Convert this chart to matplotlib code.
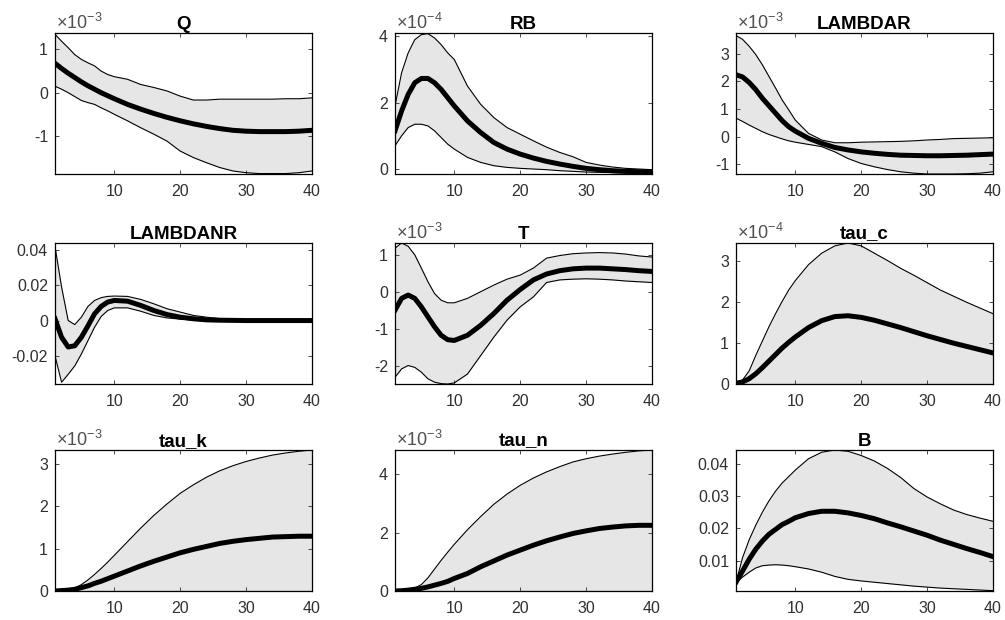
import matplotlib.pyplot as plt
import numpy as np

plt.rcParams['font.family'] = ['Liberation Sans', 'DejaVu Sans']
plt.rcParams['axes.unicode_minus'] = False
plt.rcParams['mathtext.fontset'] = 'custom'
plt.rcParams['mathtext.rm'] = 'Liberation Sans'
plt.rcParams['mathtext.it'] = 'Liberation Sans'

# horizon (periods) at which values were read
periods = [1, 2, 3, 4, 5, 6, 7, 8, 9, 10, 12, 14, 16, 18, 20, 22, 24, 26, 28, 30, 32, 34, 36, 38, 40]

# values are in the units shown on each axis (see scale exponents)
titles = ['Q', 'RB', 'LAMBDAR', 'LAMBDANR', 'T', 'tau_c', 'tau_k', 'tau_n', 'B']
exponents = [-3, -4, -3, None, -3, -4, -3, -3, None]

q_mean = [0.68, 0.56, 0.45, 0.35, 0.25, 0.16, 0.08, 0.0, -0.07, -0.14, -0.27, -0.38, -0.48, -0.57, -0.65,
          -0.72, -0.78, -0.83, -0.87, -0.89, -0.9, -0.9, -0.9, -0.89, -0.87]
q_up = [1.35, 1.19, 1.04, 0.88, 0.77, 0.69, 0.62, 0.5, 0.42, 0.37, 0.31, 0.19, 0.12, 0.04, -0.08,
        -0.17, -0.17, -0.15, -0.15, -0.15, -0.15, -0.15, -0.14, -0.14, -0.12]
q_lo = [0.15, 0.08, 0.0, -0.09, -0.18, -0.23, -0.27, -0.35, -0.42, -0.5, -0.65, -0.81, -0.96, -1.12, -1.35,
        -1.5, -1.62, -1.73, -1.81, -1.85, -1.87, -1.87, -1.87, -1.85, -1.81]

rb_mean = [1.15, 1.75, 2.25, 2.6, 2.73, 2.73, 2.6, 2.4, 2.15, 1.9, 1.45, 1.1, 0.8, 0.6, 0.45,
           0.33, 0.23, 0.15, 0.08, 0.02, -0.02, -0.05, -0.07, -0.08, -0.09]
rb_up = [1.9, 2.9, 3.5, 3.9, 4.05, 4.08, 3.95, 3.75, 3.5, 3.3, 2.5, 1.95, 1.55, 1.25, 1.05,
         0.85, 0.66, 0.5, 0.37, 0.2, 0.12, 0.06, 0.02, 0.0, -0.02]
rb_lo = [0.7, 1.0, 1.25, 1.35, 1.35, 1.3, 1.15, 0.95, 0.75, 0.6, 0.35, 0.2, 0.1, 0.05, 0.02,
         0.0, -0.02, -0.05, -0.07, -0.09, -0.1, -0.11, -0.12, -0.12, -0.12]

lr_mean = [2.24, 2.16, 1.96, 1.7, 1.39, 1.12, 0.85, 0.58, 0.36, 0.2, -0.06, -0.24, -0.39, -0.48, -0.55,
           -0.6, -0.64, -0.67, -0.68, -0.69, -0.69, -0.68, -0.67, -0.65, -0.63]
lr_up = [3.66, 3.52, 3.27, 2.97, 2.6, 2.18, 1.76, 1.33, 0.97, 0.6, 0.12, -0.12, -0.22, -0.22, -0.2,
         -0.19, -0.18, -0.17, -0.15, -0.12, -0.1, -0.07, -0.06, -0.05, -0.04]
lr_lo = [0.67, 0.55, 0.42, 0.3, 0.18, 0.08, 0.0, -0.08, -0.15, -0.2, -0.28, -0.36, -0.55, -0.79, -0.97,
         -1.09, -1.19, -1.27, -1.32, -1.35, -1.35, -1.35, -1.34, -1.32, -1.27]

lnr_mean = [0.001, -0.0095, -0.015, -0.0143, -0.0095, -0.003, 0.0038, 0.008, 0.0105, 0.0114, 0.011, 0.0086,
            0.0057, 0.0034, 0.0019, 0.001, 0.0004, 0.0002, 0.0001, 0.0, 0.0, 0.0, 0.0, 0.0, 0.0]
lnr_up = [0.042, 0.019, 0.0, -0.0023, 0.0019, 0.008, 0.0114, 0.013, 0.0137, 0.0139, 0.0137, 0.012,
          0.0095, 0.0067, 0.0048, 0.0029, 0.0019, 0.0011, 0.0007, 0.0005, 0.0003, 0.0002, 0.0001, 0.0001, 0.0]
lnr_lo = [-0.02, -0.035, -0.0305, -0.0257, -0.019, -0.0114, -0.0038, 0.0023, 0.0057, 0.0072, 0.0072, 0.0053,
          0.0029, 0.0015, 0.0008, 0.0004, 0.0002, 0.0001, 0.0, 0.0, 0.0, 0.0, 0.0, 0.0, 0.0]

t_mean = [-0.5, -0.18, -0.09, -0.18, -0.41, -0.68, -0.95, -1.18, -1.3, -1.32, -1.18, -0.91, -0.59, -0.23, 0.06,
          0.32, 0.48, 0.57, 0.62, 0.64, 0.64, 0.62, 0.6, 0.57, 0.55]
t_up = [1.18, 1.32, 1.23, 1.0, 0.64, 0.27, -0.05, -0.23, -0.3, -0.3, -0.18, 0.0, 0.18, 0.34, 0.45,
        0.64, 0.91, 0.98, 1.03, 1.05, 1.06, 1.05, 1.02, 0.97, 0.94]
t_lo = [-2.32, -2.09, -2.0, -2.05, -2.18, -2.36, -2.45, -2.49, -2.5, -2.47, -2.23, -1.73, -1.23, -0.77, -0.41,
        -0.14, 0.25, 0.32, 0.34, 0.35, 0.34, 0.32, 0.29, 0.27, 0.25]

tc_mean = [0.02, 0.05, 0.13, 0.25, 0.4, 0.56, 0.72, 0.88, 1.02, 1.15, 1.38, 1.55, 1.65, 1.67, 1.63,
           1.56, 1.47, 1.38, 1.28, 1.18, 1.09, 1.0, 0.92, 0.84, 0.76]
tc_up = [0.02, 0.1, 0.32, 0.7, 1.05, 1.4, 1.72, 2.02, 2.3, 2.53, 2.92, 3.2, 3.38, 3.45, 3.38,
         3.2, 3.02, 2.83, 2.66, 2.48, 2.3, 2.15, 2.0, 1.86, 1.72]
tc_lo = [0.0, 0.0, 0.0, 0.0, 0.0, 0.0, 0.0, 0.0, 0.0, 0.0, 0.0, 0.0, 0.0, 0.0, 0.0,
         0.0, 0.0, 0.0, 0.0, 0.0, 0.0, 0.0, 0.0, 0.0, 0.0]

tk_mean = [0.0, 0.01, 0.02, 0.04, 0.08, 0.12, 0.18, 0.23, 0.29, 0.35, 0.47, 0.59, 0.7, 0.8, 0.9,
           0.98, 1.05, 1.12, 1.17, 1.21, 1.24, 1.27, 1.28, 1.29, 1.29]
tk_up = [0.0, 0.01, 0.03, 0.07, 0.15, 0.26, 0.39, 0.53, 0.68, 0.84, 1.16, 1.48, 1.78, 2.05, 2.3,
         2.5, 2.68, 2.83, 2.95, 3.05, 3.13, 3.2, 3.25, 3.29, 3.32]
tk_lo = [0.0, 0.0, 0.0, 0.0, 0.0, 0.0, 0.0, 0.0, 0.0, 0.0, 0.0, 0.0, 0.0, 0.0, 0.0,
         0.0, 0.0, 0.0, 0.0, 0.0, 0.0, 0.0, 0.0, 0.0, 0.0]

tn_mean = [0.0, 0.01, 0.03, 0.06, 0.09, 0.14, 0.2, 0.26, 0.33, 0.43, 0.6, 0.83, 1.03, 1.23, 1.4,
           1.57, 1.72, 1.85, 1.97, 2.06, 2.14, 2.19, 2.23, 2.25, 2.25]
tn_up = [0.0, 0.01, 0.04, 0.1, 0.22, 0.45, 0.75, 1.05, 1.33, 1.6, 2.1, 2.55, 2.97, 3.32, 3.62,
         3.87, 4.08, 4.26, 4.42, 4.53, 4.62, 4.69, 4.75, 4.8, 4.83]
tn_lo = [0.0, 0.0, 0.0, 0.0, 0.0, 0.0, 0.0, 0.0, 0.0, 0.0, 0.0, 0.0, 0.0, 0.0, 0.0,
         0.0, 0.0, 0.0, 0.0, 0.0, 0.0, 0.0, 0.0, 0.0, 0.0]

b_mean = [0.0034, 0.0069, 0.0105, 0.0136, 0.0161, 0.0182, 0.0197, 0.0212, 0.0222, 0.0233, 0.0246, 0.0253,
          0.0253, 0.0248, 0.024, 0.023, 0.0217, 0.0205, 0.0192, 0.0179, 0.0164, 0.0151, 0.0138, 0.0126, 0.0113]
b_up = [0.0034, 0.011, 0.0165, 0.021, 0.025, 0.0285, 0.0315, 0.034, 0.036, 0.038, 0.0415, 0.0435,
        0.0442, 0.0438, 0.0425, 0.0408, 0.0385, 0.0357, 0.0323, 0.0297, 0.0276, 0.0257, 0.0243, 0.0232, 0.0222]
b_lo = [0.0034, 0.005, 0.0065, 0.0078, 0.0085, 0.0087, 0.0088, 0.0087, 0.0085, 0.0082, 0.0075, 0.0065,
        0.0052, 0.0043, 0.0038, 0.0034, 0.003, 0.0026, 0.0022, 0.0019, 0.0016, 0.0014, 0.0012, 0.001, 0.0008]

means = [q_mean, rb_mean, lr_mean, lnr_mean, t_mean, tc_mean, tk_mean, tn_mean, b_mean]
uppers = [q_up, rb_up, lr_up, lnr_up, t_up, tc_up, tk_up, tn_up, b_up]
lowers = [q_lo, rb_lo, lr_lo, lnr_lo, t_lo, tc_lo, tk_lo, tn_lo, b_lo]
yticks = [[-1, 0, 1], [0, 2, 4], [-1, 0, 1, 2, 3], [-0.02, 0, 0.02, 0.04], [-2, -1, 0, 1],
          [0, 1, 2, 3], [0, 1, 2, 3], [0, 2, 4], [0.01, 0.02, 0.03, 0.04]]
yticklabels = [['-1', '0', '1'], ['0', '2', '4'], ['-1', '0', '1', '2', '3'], ['-0.02', '0', '0.02', '0.04'],
               ['-2', '-1', '0', '1'], ['0', '1', '2', '3'], ['0', '1', '2', '3'], ['0', '2', '4'],
               ['0.01', '0.02', '0.03', '0.04']]
ylims = [(-1.88, 1.38), (-0.15, 4.1), (-1.35, 3.75), (-0.036, 0.044), (-2.5, 1.32),
         (0, 3.45), (0, 3.32), (0, 4.83), (0.0007, 0.0442)]

W, H = 1005, 620
fig = plt.figure(figsize=(W / 100, H / 100), dpi=100)
col_left = [55, 395, 736]
row_top = [33, 243, 450]
aw, ah = 257, 141
grey = '#303030'

for i in range(9):
    r, c = divmod(i, 3)
    ax = fig.add_axes([col_left[c] / W, 1 - (row_top[r] + ah) / H, aw / W, ah / H])
    ax.fill_between(periods, lowers[i], uppers[i], color='#e6e6e6', lw=0)
    ax.plot(periods, uppers[i], color='k', lw=0.8)
    ax.plot(periods, lowers[i], color='k', lw=0.8)
    ax.plot(periods, means[i], color='k', lw=3.6)
    ax.set_xlim(1, 40)
    ax.set_ylim(*ylims[i])
    ax.set_xticks([10, 20, 30, 40])
    ax.set_yticks(yticks[i])
    ax.set_yticklabels(yticklabels[i])
    ax.tick_params(direction='in', length=3, width=0.6, labelsize=11.5, colors=grey,
                   top=True, right=True)
    ax.tick_params(axis='x', pad=7)
    ax.tick_params(axis='y', pad=5)
    for s in ax.spines.values():
        s.set_linewidth(0.9)
        s.set_color('k')
    ax.set_title(titles[i], fontsize=13.5, fontweight='bold', pad=3)
    if exponents[i] is not None:
        ax.text(0.005, 1.0, r'$\times10^{%d}$' % exponents[i], transform=ax.transAxes,
                ha='left', va='bottom', fontsize=13, color='#505050')

fig.savefig('out.png', dpi=100)
